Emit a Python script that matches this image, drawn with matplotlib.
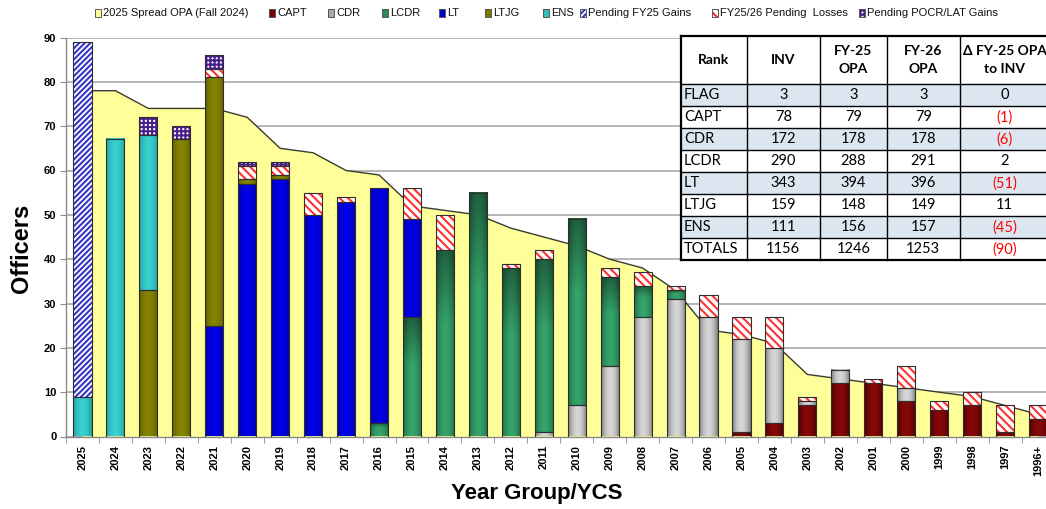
import numpy as np
import matplotlib
matplotlib.use("Agg")
import matplotlib.pyplot as plt
from matplotlib.patches import Rectangle
from matplotlib.colors import to_rgb

# ---------------- data ----------------
years = ['2025', '2024', '2023', '2022', '2021', '2020', '2019', '2018', '2017', '2016',
         '2015', '2014', '2013', '2012', '2011', '2010', '2009', '2008', '2007', '2006',
         '2005', '2004', '2003', '2002', '2001', '2000', '1999', '1998', '1997', '1996+']
opa_spread = [78, 78, 74, 74, 74, 72, 65, 64, 60, 59,
              52, 51, 50, 47, 45, 43, 40, 38, 33, 24,
              23, 21, 14, 13, 12, 11, 10, 9, 7, 5]
capt = [0, 0, 0, 0, 0, 0, 0, 0, 0, 0,
        0, 0, 0, 0, 0, 0, 0, 0, 0, 0,
        1, 3, 7, 12, 12, 8, 6, 7, 1, 4]
cdr = [0, 0, 0, 0, 0, 0, 0, 0, 0, 0,
       0, 0, 0, 0, 1, 7, 16, 27, 31, 27,
       21, 17, 1, 3, 0, 3, 0, 0, 0, 0]
lcdr = [0, 0, 0, 0, 0, 0, 0, 0, 0, 3,
        27, 42, 55, 38, 39, 42, 20, 7, 2, 0,
        0, 0, 0, 0, 0, 0, 0, 0, 0, 0]
lt = [0, 0, 0, 0, 25, 57, 58, 50, 53, 53,
      22, 0, 0, 0, 0, 0, 0, 0, 0, 0,
      0, 0, 0, 0, 0, 0, 0, 0, 0, 0]
ltjg = [0, 0, 33, 67, 56, 1, 1, 0, 0, 0,
        0, 0, 0, 0, 0, 0, 0, 0, 0, 0,
        0, 0, 0, 0, 0, 0, 0, 0, 0, 0]
ens = [9, 67, 35, 0, 0, 0, 0, 0, 0, 0,
       0, 0, 0, 0, 0, 0, 0, 0, 0, 0,
       0, 0, 0, 0, 0, 0, 0, 0, 0, 0]
pending_fy25_gains = [80, 0, 0, 0, 0, 0, 0, 0, 0, 0,
                      0, 0, 0, 0, 0, 0, 0, 0, 0, 0,
                      0, 0, 0, 0, 0, 0, 0, 0, 0, 0]
pending_losses = [0, 0, 0, 0, 2, 3, 2, 5, 1, 0,
                  7, 8, 0, 1, 2, 0, 2, 3, 1, 5,
                  5, 7, 1, 0, 1, 5, 2, 3, 6, 3]
pending_pocr_gains = [0, 0, 4, 3, 3, 1, 1, 0, 0, 0,
                      0, 0, 0, 0, 0, 0, 0, 0, 0, 0,
                      0, 0, 0, 0, 0, 0, 0, 0, 0, 0]

table_header = ['Rank', 'INV', 'FY-25\nOPA', 'FY-26\nOPA', '\u0394 FY-25 OPA\nto INV']
table_ranks = ['FLAG', 'CAPT', 'CDR', 'LCDR', 'LT', 'LTJG', 'ENS', 'TOTALS']
table_inv = [3, 78, 172, 290, 343, 159, 111, 1156]
table_fy25_opa = [3, 79, 178, 288, 394, 148, 156, 1246]
table_fy26_opa = [3, 79, 178, 291, 396, 149, 157, 1253]
table_delta = [0, -1, -6, 2, -51, 11, -45, -90]

# ---------------- figure ----------------
W, H = 1046, 509
plt.rcParams['font.family'] = ['Liberation Sans', 'DejaVu Sans']
plt.rcParams['hatch.linewidth'] = 1.5
fig = plt.figure(figsize=(W / 100, H / 100), dpi=100)


def fx(px):
    return px / W


def fy(py):
    return 1 - py / H


ax_left, ax_right, ax_top, ax_bot = 66, 1054.5, 37.5, 436.5
ax = fig.add_axes([fx(ax_left), fy(ax_bot), (ax_right - ax_left) / W, (ax_bot - ax_top) / H])

x = np.arange(len(years))
bw = 0.55

# area (OPA spread)
ax.fill_between(x, opa_spread, 0, color='#ffff99', lw=0, zorder=1)
ax.plot(x, opa_spread, color='#3b3b2b', lw=1.0, zorder=1.2)


def grad_img(edge, center, vert_dark=None, n=24, m=48):
    t = np.linspace(0, 1, n)
    p = np.sin(np.pi * t) ** 0.8
    e = np.array(to_rgb(edge))
    c = np.array(to_rgb(center))
    row = e[None, :] * (1 - p[:, None]) + c[None, :] * p[:, None]
    img = np.repeat(row[None, :, :], m, axis=0)
    if vert_dark is not None:
        s = np.linspace(0, 1, m)
        f = vert_dark + (1 - vert_dark) * np.clip(s / 0.4, 0, 1)
        img = img * f[:, None, None]
    return np.clip(img, 0, 1)


solid_styles = {
    'CAPT': dict(edge='#4a0000', center='#860808', vd=None),
    'CDR': dict(edge='#7a7a7a', center='#d6d6d6', vd=None),
    'LCDR': dict(edge='#1f6a43', center='#35a36a', vd=0.6),
    'LT': dict(edge='#0000a8', center='#0000e6', vd=None),
    'LTJG': dict(edge='#5f5f00', center='#848400', vd=None),
    'ENS': dict(edge='#1f9f9f', center='#3bcfcf', vd=None),
}
hatch_styles = {
    'Pending FY25 Gains': dict(face='white', hcol='#3535c8', hatch='//////'),
    'FY25/26 Pending  Losses': dict(face='white', hcol='#ff3030', hatch='\\\\\\\\'),
    'Pending POCR/LAT Gains': dict(face='white', hcol='#4a1f8c', hatch='++++'),
}

series = [('CAPT', capt), ('CDR', cdr), ('LCDR', lcdr), ('LT', lt), ('LTJG', ltjg), ('ENS', ens),
          ('Pending FY25 Gains', pending_fy25_gains), ('FY25/26 Pending  Losses', pending_losses),
          ('Pending POCR/LAT Gains', pending_pocr_gains)]

bottom = np.zeros(len(years))
outline = '#2e2e2e'
for name, vals in series:
    vals = np.asarray(vals, dtype=float)
    idx = np.nonzero(vals)[0]
    if name in solid_styles:
        st = solid_styles[name]
        for i in idx:
            img = grad_img(st['edge'], st['center'], st['vd'])
            ax.imshow(img, extent=(x[i] - bw / 2, x[i] + bw / 2, bottom[i], bottom[i] + vals[i]),
                      aspect='auto', interpolation='bilinear', zorder=3, origin='upper')
    else:
        st = hatch_styles[name]
        ax.bar(x[idx], vals[idx], bw, bottom=bottom[idx], color=st['face'],
               edgecolor=st['hcol'], hatch=st['hatch'], lw=0, zorder=3)
    ax.bar(x[idx], vals[idx], bw, bottom=bottom[idx], fill=False,
           edgecolor=outline, lw=0.8, zorder=3.5)
    bottom += vals

ax.set_xlim(-0.5, len(years) - 0.5)
ax.set_ylim(0, 90)
ax.set_yticks(range(0, 91, 10))
ax.set_axisbelow(True)
ax.yaxis.grid(True, color='#a9a9a9', lw=1.2)
for s in ['top', 'right']:
    ax.spines[s].set_visible(False)
for s in ['left', 'bottom']:
    ax.spines[s].set_color('#8a8a8a')
    ax.spines[s].set_linewidth(1.0)
ax.set_xticks(x)
ax.set_xticklabels(years, rotation=90, fontsize=8, fontweight='bold')
ax.set_xticks(np.arange(-0.5, len(years), 1), minor=True)
ax.tick_params(axis='x', which='major', length=0, pad=6)
ax.tick_params(axis='x', which='minor', length=4, color='#8a8a8a')
ax.tick_params(axis='y', length=4, color='#8a8a8a', pad=3, labelsize=8)
for lab in ax.get_yticklabels():
    lab.set_fontweight('bold')

fig.text(fx(22), fy(248), 'Officers', rotation=90, fontsize=17, fontweight='bold',
         ha='center', va='center')
fig.text(fx(537), fy(494), 'Year Group/YCS', fontsize=16, fontweight='bold',
         ha='center', va='center')

# ---------------- legend ----------------
leg_items = [
    ('2025 Spread OPA (Fall 2024)', 95, dict(face='#ffff99')),
    ('CAPT', 269, dict(face='#7b0000')),
    ('CDR', 328, dict(face='#a8a8a8')),
    ('LCDR', 382, dict(face='#2b8a57')),
    ('LT', 439, dict(face='#0000d0')),
    ('LTJG', 485, dict(face='#7a7a00')),
    ('ENS', 543, dict(face='#2fbfbf')),
    ('Pending FY25 Gains', 580, dict(face='white', hcol='#3535c8', hatch='//////')),
    ('FY25/26 Pending  Losses', 712, dict(face='white', hcol='#ff3030', hatch='\\\\\\\\')),
    ('Pending POCR/LAT Gains', 859, dict(face='white', hcol='#4a1f8c', hatch='++++')),
]
ly = 13
for label, mx, st in leg_items:
    r = Rectangle((fx(mx), fy(ly + 3.5)), 6 / W, 7 / H, transform=fig.transFigure,
                  facecolor=st['face'], edgecolor=st.get('hcol', st['face']),
                  hatch=st.get('hatch'), lw=0)
    fig.add_artist(r)
    fig.add_artist(Rectangle((fx(mx), fy(ly + 3.5)), 6 / W, 7 / H, transform=fig.transFigure,
                             fill=False, edgecolor='#555555', lw=0.7))
    fig.text(fx(mx + 8), fy(ly), label, fontsize=8, ha='left', va='center', color='#111111')

# ---------------- table ----------------
col_edges = [681, 746.5, 820, 886.5, 960, 1049]
row_edges = [36, 84] + [84 + 22.06 * (i + 1) for i in range(len(table_ranks))]
tfam = ['Lato', 'DejaVu Sans']
shade = '#dce6f1'
fig.add_artist(Rectangle((fx(col_edges[0]), fy(row_edges[-1])), (col_edges[-1] - col_edges[0]) / W,
                         (row_edges[-1] - row_edges[0]) / H, transform=fig.transFigure,
                         facecolor='white', edgecolor='none', zorder=5))
for r in range(len(table_ranks)):
    if r % 2 == 0 and r < 7:
        y0, y1 = row_edges[r + 1], row_edges[r + 2]
        fig.add_artist(Rectangle((fx(col_edges[0]), fy(y1)), (col_edges[-1] - col_edges[0]) / W,
                                 (y1 - y0) / H, transform=fig.transFigure,
                                 facecolor=shade, edgecolor='none', zorder=5.1))
for i, cx in enumerate(col_edges):
    lw = 1.6 if i in (0, len(col_edges) - 1) else 1.0
    fig.add_artist(plt.Line2D([fx(cx), fx(cx)], [fy(row_edges[0]), fy(row_edges[-1])],
                              transform=fig.transFigure, color='black', lw=lw, zorder=6))
for i, ry in enumerate(row_edges):
    lw = 1.6 if i in (0, len(row_edges) - 1) else 1.0
    fig.add_artist(plt.Line2D([fx(col_edges[0]), fx(col_edges[-1])], [fy(ry), fy(ry)],
                              transform=fig.transFigure, color='black', lw=lw, zorder=6))
hy = (row_edges[0] + row_edges[1]) / 2
for c, txt in enumerate(table_header):
    cx = (col_edges[c] + col_edges[c + 1]) / 2
    fig.text(fx(cx), fy(hy), txt, family=tfam, fontsize=10, fontweight='bold', ha='center',
             va='center', linespacing=1.55, zorder=7)
for r in range(len(table_ranks)):
    cy = (row_edges[r + 1] + row_edges[r + 2]) / 2
    fig.text(fx(col_edges[0] + 3), fy(cy), table_ranks[r], family=tfam, fontsize=10.5,
             ha='left', va='center', zorder=7)
    vals = [table_inv[r], table_fy25_opa[r], table_fy26_opa[r]]
    for c, v in enumerate(vals):
        cx = (col_edges[c + 1] + col_edges[c + 2]) / 2
        fig.text(fx(cx), fy(cy), str(v), family=tfam, fontsize=10.5, ha='center',
                 va='center', zorder=7)
    d = table_delta[r]
    cx = (col_edges[4] + col_edges[5]) / 2
    if d < 0:
        fig.text(fx(cx), fy(cy), '(%d)' % (-d), family=tfam, fontsize=10.5, ha='center',
                 va='center', color='#ff0000', zorder=7)
    else:
        fig.text(fx(cx), fy(cy), str(d), family=tfam, fontsize=10.5, ha='center',
                 va='center', zorder=7)

fig.savefig('out.png', dpi=100)
